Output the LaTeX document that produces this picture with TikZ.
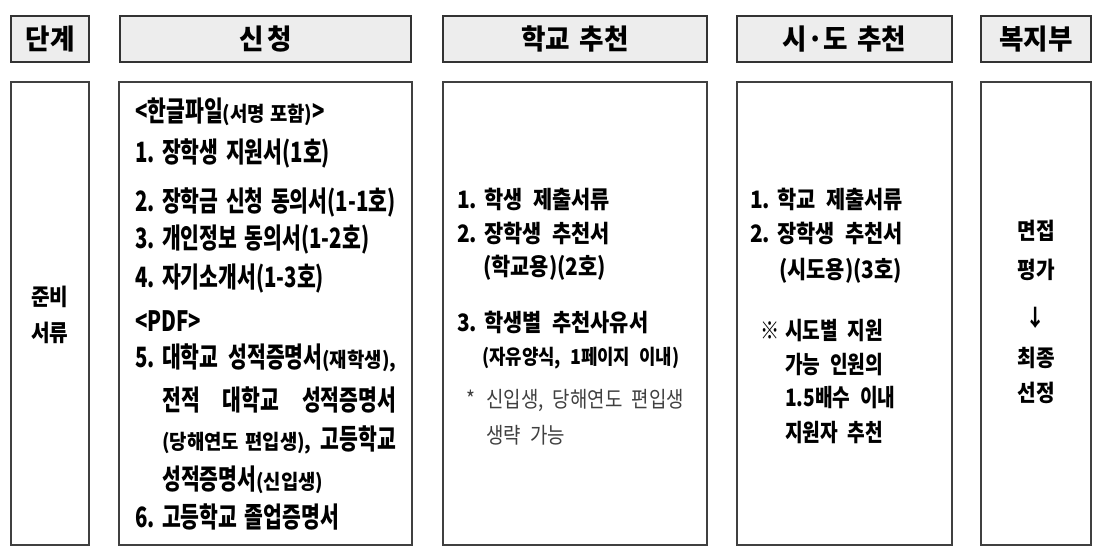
\documentclass[tikz,border=0pt]{standalone}
\usepackage{fontspec}
\setmainfont{Noto Sans CJK KR}
\newfontfamily\applyfont{Noto Sans CJK KR}[FakeStretch=0.73, WordSpace=1.6]
\newfontfamily\recfont{Noto Sans CJK KR}[FakeStretch=0.87, WordSpace=2.2]
\newfontfamily\remfont{Noto Sans CJK KR}[FakeStretch=0.8, WordSpace=2.2]
\newfontfamily\notefont{Noto Sans CJK KR}[FakeStretch=0.86, WordSpace=2.2]
\newfontfamily\hdrfont{Noto Sans CJK KR}[FakeStretch=0.95, WordSpace=1.6]
\newfontfamily\midfont{Noto Sans CJK KR}[FakeStretch=0.88]
\newfontfamily\partfont{Noto Sans CJK KR}[FakeStretch=0.92, WordSpace=1.2]
\usepackage{tikz}

% hanging number of a list line
\newcommand{\itemno}[1]{\makebox[27pt][l]{#1}}
\newcommand{\smallpart}[1]{{\partfont\fontsize{20.5}{24}\selectfont #1}}
% justified line of the apply column
\newcommand{\fullline}[1]{\makebox[234pt][s]{#1}}

\begin{document}
\begin{tikzpicture}[x=1pt,y=-1pt,
		hdrbox/.style={draw=black!80, line width=1.8pt, fill=black!7, inner sep=0pt,
			minimum height=46pt, font=\hdrfont\fontsize{28}{32}\selectfont\bfseries},
		bodybox/.style={draw=black!75, line width=1.6pt, fill=white, minimum height=463pt},
		applyline/.style={anchor=west, inner sep=0pt, font=\applyfont\fontsize{28}{32}\selectfont\bfseries},
		docline/.style={anchor=west, inner sep=0pt, font=\recfont\fontsize{24}{28}\selectfont\bfseries},
		remline/.style={anchor=west, inner sep=0pt, font=\remfont\fontsize{24}{28}\selectfont\bfseries},
		smallline/.style={anchor=west, inner sep=0pt, font=\recfont\fontsize{20.5}{24}\selectfont\bfseries},
		noteline/.style={anchor=west, inner sep=0pt, text=black!75, font=\notefont\fontsize{22}{26}\selectfont},
		midline/.style={anchor=center, inner sep=0pt, font=\midfont\fontsize{23}{27}\selectfont\bfseries}]
		\useasboundingbox (0,0) rectangle (1101,559);
		%header row
		\node[hdrbox, minimum width=78pt] (stepHead) at (50,39) {단계};
		\node[hdrbox, minimum width=291pt] (applyHead) at (265.5,39) {신\kern4pt청};
		\node[hdrbox, minimum width=264pt] (schoolHead) at (575,39) {학교 추천};
		\node[hdrbox, minimum width=215pt] (cityHead) at (844.5,39) {시·도 추천};
		\node[hdrbox, minimum width=110pt] (minHead) at (1036,39) {복지부};
		%body boxes
		\node[bodybox, minimum width=78pt] (stepBody) at (50,313.5) {};
		\node[bodybox, minimum width=293pt] (applyBody) at (265.5,313.5) {};
		\node[bodybox, minimum width=264pt] (schoolBody) at (575,313.5) {};
		\node[bodybox, minimum width=215pt] (cityBody) at (844.5,313.5) {};
		\node[bodybox, minimum width=110pt] (minBody) at (1036,313.5) {};
		%step column
		\node[midline] (stepA) at (50,297) {준비};
		\node[midline] (stepB) at (50,333) {서류};
		%apply column
		\node[applyline] (applyA) at (135,112) {<한글파일\smallpart{(서명 포함)}>};
		\node[applyline] (applyB) at (135,153) {\itemno{1.}장학생 지원서(1호)};
		\node[applyline] (applyC) at (135,202) {\itemno{2.}장학금 신청 동의서(1-1호)};
		\node[applyline] (applyD) at (135,240) {\itemno{3.}개인정보 동의서(1-2호)};
		\node[applyline] (applyE) at (135,279) {\itemno{4.}자기소개서(1-3호)};
		\node[applyline] (applyF) at (135,321) {<PDF>};
		\node[applyline] (applyG) at (135,358) {\itemno{5.}\fullline{대학교 성적증명서\smallpart{(재학생),}}};
		\node[applyline] (applyH) at (162,400) {\fullline{전적 대학교 성적증명서}};
		\node[applyline] (applyI) at (162,440) {\fullline{\smallpart{(당해연도 편입생),} 고등학교}};
		\node[applyline] (applyJ) at (162,480) {성적증명서\smallpart{(신입생)}};
		\node[applyline] (applyK) at (135,517) {\itemno{6.}고등학교 졸업증명서};
		%school column
		\node[docline] (schoolA) at (457,199) {\itemno{1.}학생 제출서류};
		\node[docline] (schoolB) at (457,233) {\itemno{2.}장학생 추천서};
		\node[docline] (schoolC) at (483,268) {(학교용)(2호)};
		\node[docline] (schoolD) at (457,322) {\itemno{3.}학생별 추천사유서};
		\node[smallline] (schoolE) at (482,358) {(자유양식, 1페이지 이내)};
		\node[noteline] (schoolF) at (466,400) {\makebox[20pt][l]{*}신입생, 당해연도 편입생};
		\node[noteline] (schoolG) at (486,435) {생략 가능};
		%city column
		\node[docline] (cityA) at (750,199) {\itemno{1.}학교 제출서류};
		\node[docline] (cityB) at (750,233) {\itemno{2.}장학생 추천서};
		\node[docline] (cityC) at (779,271) {(시도용)(3호)};
		\node[remline] (cityD) at (760,331) {\makebox[25pt][l]{※}시도별 지원};
		\node[remline] (cityE) at (785,365) {가능 인원의};
		\node[remline] (cityF) at (785,398) {1.5배수 이내};
		\node[remline] (cityG) at (785,433) {지원자 추천};
		%ministry column
		\node[midline] (minA) at (1036,231) {면접};
		\node[midline] (minB) at (1036,270) {평가};
		\node[midline] (minC) at (1036,318) {↓};
		\node[midline] (minD) at (1036,358) {최종};
		\node[midline] (minE) at (1036,393) {선정};
	\end{tikzpicture}
\end{document}
